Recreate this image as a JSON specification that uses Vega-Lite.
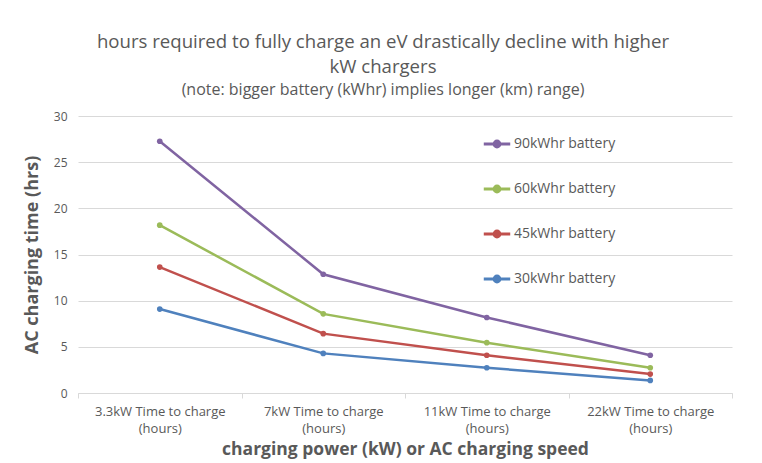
{
  "$schema": "https://vega.github.io/schema/vega-lite/v6.json",
  "width": 654,
  "height": 277,
  "autosize": {"type": "none"},
  "padding": {"left": 78, "top": 116, "right": 30, "bottom": 70},
  "background": "white",
  "title": {
    "text": ["hours required to fully charge an eV drastically decline with higher", "kW chargers"],
    "subtitle": "(note: bigger battery (kWhr) implies longer (km) range)",
    "anchor": "middle",
    "dx": -22,
    "offset": 12,
    "font": "Open Sans",
    "fontSize": 18.6,
    "fontWeight": "normal",
    "color": "#595959",
    "lineHeight": 25,
    "subtitleFont": "Open Sans",
    "subtitleFontSize": 16,
    "subtitleColor": "#595959",
    "subtitlePadding": 5
  },
  "data": {
    "values": [
      {"battery": "90kWhr battery", "charger": "3.3kW Time to charge (hours)", "hours": 27.27},
      {"battery": "90kWhr battery", "charger": "7kW Time to charge (hours)", "hours": 12.86},
      {"battery": "90kWhr battery", "charger": "11kW Time to charge (hours)", "hours": 8.18},
      {"battery": "90kWhr battery", "charger": "22kW Time to charge (hours)", "hours": 4.09},
      {"battery": "60kWhr battery", "charger": "3.3kW Time to charge (hours)", "hours": 18.18},
      {"battery": "60kWhr battery", "charger": "7kW Time to charge (hours)", "hours": 8.57},
      {"battery": "60kWhr battery", "charger": "11kW Time to charge (hours)", "hours": 5.45},
      {"battery": "60kWhr battery", "charger": "22kW Time to charge (hours)", "hours": 2.73},
      {"battery": "45kWhr battery", "charger": "3.3kW Time to charge (hours)", "hours": 13.64},
      {"battery": "45kWhr battery", "charger": "7kW Time to charge (hours)", "hours": 6.43},
      {"battery": "45kWhr battery", "charger": "11kW Time to charge (hours)", "hours": 4.09},
      {"battery": "45kWhr battery", "charger": "22kW Time to charge (hours)", "hours": 2.05},
      {"battery": "30kWhr battery", "charger": "3.3kW Time to charge (hours)", "hours": 9.09},
      {"battery": "30kWhr battery", "charger": "7kW Time to charge (hours)", "hours": 4.29},
      {"battery": "30kWhr battery", "charger": "11kW Time to charge (hours)", "hours": 2.73},
      {"battery": "30kWhr battery", "charger": "22kW Time to charge (hours)", "hours": 1.36}
    ]
  },
  "mark": {"type": "line", "strokeWidth": 2.5, "point": {"filled": true, "size": 32}},
  "encoding": {
    "x": {
      "field": "charger",
      "type": "nominal",
      "sort": null,
      "scale": {"type": "band", "paddingInner": 0, "paddingOuter": 0},
      "axis": {
        "title": "charging power (kW) or AC charging speed",
        "titleFontSize": 17.5,
        "labelAngle": 0,
        "labelExpr": "indexof(datum.label, ' (') > 0 ? [slice(datum.label, 0, indexof(datum.label, ' (')), '(hours)'] : ''",
        "labelFontSize": 13,
        "labelLineHeight": 17,
        "labelPadding": 7,
        "tickBand": "extent",
        "tickSize": 5,
        "tickColor": "#d9d9d9",
        "domainColor": "#d9d9d9",
        "grid": false,
        "titlePadding": 5
      }
    },
    "y": {
      "field": "hours",
      "type": "quantitative",
      "scale": {"domain": [0, 30]},
      "axis": {
        "title": "AC charging time (hrs)",
        "values": [0, 5, 10, 15, 20, 25, 30],
        "domain": false,
        "ticks": false,
        "labelPadding": 11,
        "gridColor": "#d9d9d9",
        "titlePadding": 12
      }
    },
    "color": {
      "field": "battery",
      "type": "nominal",
      "scale": {
        "domain": ["90kWhr battery", "60kWhr battery", "45kWhr battery", "30kWhr battery"],
        "range": ["#8064A2", "#9BBB59", "#C0504D", "#4F81BD"]
      },
      "legend": {
        "title": null,
        "orient": "none",
        "legendX": 404,
        "legendY": 13,
        "symbolType": "M-1,0H1M-0.22,0a0.22,0.22 0 1,0 0.44,0a0.22,0.22 0 1,0 -0.44,0",
        "symbolSize": 700,
        "symbolStrokeWidth": 3,
        "labelFont": "Open Sans",
        "labelFontSize": 14,
        "labelColor": "#595959",
        "labelOffset": 2,
        "rowPadding": 21
      }
    }
  },
  "config": {
    "view": {"stroke": null},
    "axis": {
      "labelFont": "Open Sans",
      "labelFontSize": 12,
      "labelColor": "#595959",
      "titleFont": "Open Sans",
      "titleFontSize": 18,
      "titleFontWeight": "bold",
      "titleColor": "#595959"
    }
  }
}
